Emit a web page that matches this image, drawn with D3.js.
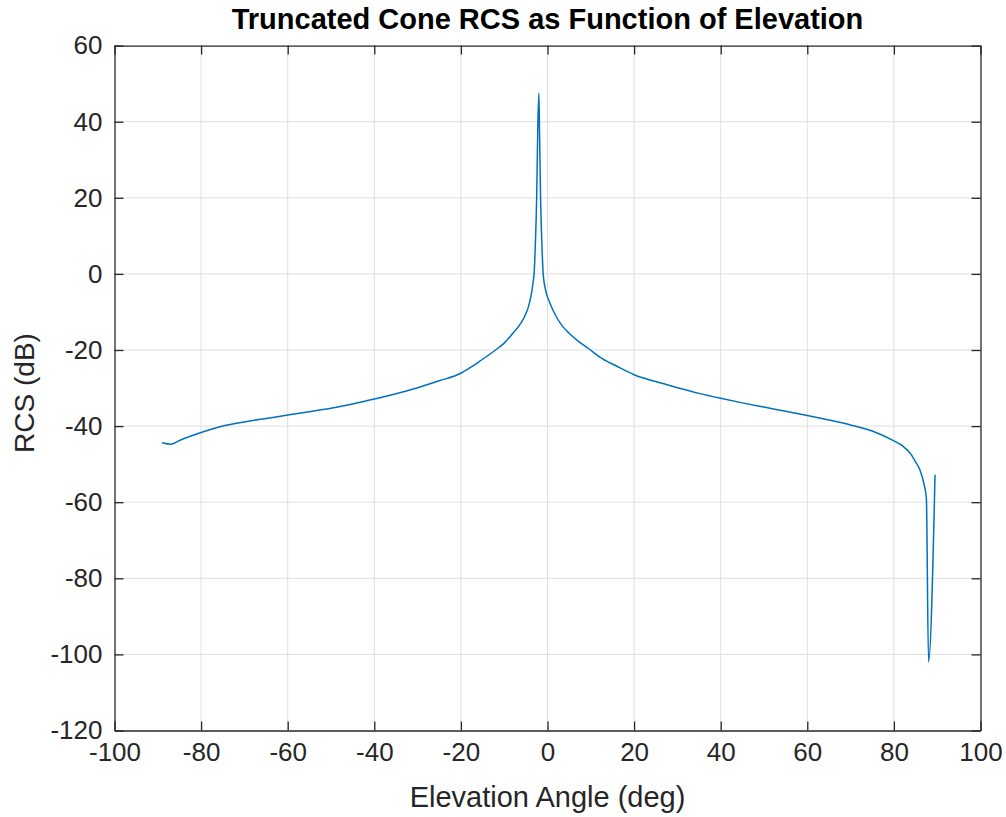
<!DOCTYPE html>
<html><head><meta charset="utf-8">
<script src="https://cdn.jsdelivr.net/npm/d3@7/dist/d3.min.js"></script>
<style>
html,body{margin:0;padding:0;background:#fff;}
svg{display:block;}
text{font-family:"Liberation Sans",Arial,Helvetica,sans-serif;}
</style></head>
<body>
<svg id="chart" width="1006" height="817"></svg>
<script>
const elevation = [-89, -87, -85, -80, -75, -70, -65, -60, -55, -50, -45, -40, -35, -30, -25, -20, -17.5, -15.7, -12, -10, -8, -6, -5.3, -4.5, -3.7, -3.3, -3.1, -2.8, -2.5, -2.25, -2.0, -1.85, -1.6, -1.2, -1.0, -0.25, 0.5, 2, 3.5, 5, 7, 9.7, 12, 15.9, 20, 25, 30, 35, 40, 45, 50, 55, 60, 65, 70, 75, 80, 82, 84, 85, 86, 87, 87.5, 88, 89.5];
const rcsDb = [-44.4, -44.8, -43.8, -41.7, -40.0, -38.9, -38.0, -37.1, -36.2, -35.3, -34.2, -32.9, -31.5, -29.9, -28.1, -26.1, -24.4, -23.0, -20.0, -18.2, -15.6, -12.7, -11.2, -9.0, -5.1, -2, 0, 8, 20, 38, 47.5, 38, 20, 5, 0, -5.1, -7.5, -11.2, -13.8, -15.6, -17.6, -19.8, -21.8, -24.2, -26.5, -28.3, -29.9, -31.4, -32.7, -33.9, -35.0, -36.1, -37.2, -38.4, -39.7, -41.3, -43.9, -45.2, -47.5, -49.4, -51.5, -55.5, -59, -102, -52.8];
const xTicks = [-100, -80, -60, -40, -20, 0, 20, 40, 60, 80, 100];
const yTicks = [-120, -100, -80, -60, -40, -20, 0, 20, 40, 60];
const titleText = "Truncated Cone RCS as Function of Elevation";
const xLabelText = "Elevation Angle (deg)";
const yLabelText = "RCS (dB)";

const L = 114.5, R = 980.5, T = 45.6, B = 730.5;
const svg = d3.select("#chart");
const x = d3.scaleLinear().domain([-100, 100]).range([L, R]);
const y = d3.scaleLinear().domain([-120, 60]).range([B, T]);
const axisColor = "#262626";

// grid
const grid = svg.append("g");
grid.selectAll("line.vx").data(xTicks.slice(1, -1)).join("line")
  .attr("x1", d => x(d)).attr("x2", d => x(d)).attr("y1", T).attr("y2", B)
  .attr("stroke", "#dfdfdf").attr("stroke-width", 1);
grid.selectAll("line.hy").data(yTicks.slice(1, -1)).join("line")
  .attr("y1", d => y(d)).attr("y2", d => y(d)).attr("x1", L).attr("x2", R)
  .attr("stroke", "#dfdfdf").attr("stroke-width", 1);

// data line
const line = d3.line().x((d, i) => x(elevation[i])).y(d => y(d)).curve(d3.curveMonotoneX);
svg.append("path").datum(rcsDb).attr("d", line)
  .attr("fill", "none").attr("stroke", "#0072BD").attr("stroke-width", 1.5)
  .attr("stroke-linejoin", "round");

// axes
const tickLen = 9;
const fontSize = 26;
const gB = svg.append("g").attr("transform", `translate(0,${B})`)
  .call(d3.axisBottom(x).tickValues(xTicks).tickSizeInner(-tickLen).tickSizeOuter(0).tickPadding(12));
const gT = svg.append("g").attr("transform", `translate(0,${T})`)
  .call(d3.axisTop(x).tickValues(xTicks).tickSizeInner(-tickLen).tickSizeOuter(0).tickFormat(""));
const gL = svg.append("g").attr("transform", `translate(${L},0)`)
  .call(d3.axisLeft(y).tickValues(yTicks).tickSizeInner(-tickLen).tickSizeOuter(0).tickPadding(12));
const gR = svg.append("g").attr("transform", `translate(${R},0)`)
  .call(d3.axisRight(y).tickValues(yTicks).tickSizeInner(-tickLen).tickSizeOuter(0).tickFormat(""));
[gB, gT, gL, gR].forEach(g => {
  g.select(".domain").attr("stroke", axisColor).attr("stroke-width", 1.3);
  g.selectAll(".tick line").attr("stroke", axisColor).attr("stroke-width", 1.3);
  g.selectAll(".tick text").attr("fill", axisColor).style("font-size", fontSize + "px")
    .style("font-family", '"Liberation Sans", Arial, sans-serif');
});
gB.selectAll(".tick text").text(d => String(d));
gL.selectAll(".tick text").text(d => String(d));

// titles
svg.append("text").attr("x", (L + R) / 2).attr("y", 29).attr("text-anchor", "middle")
  .style("font-size", "29px").style("font-weight", "bold").attr("fill", "#000")
  .text(titleText);
svg.append("text").attr("x", (L + R) / 2).attr("y", 807).attr("text-anchor", "middle")
  .style("font-size", "29px").attr("fill", axisColor)
  .text(xLabelText);
svg.append("text").attr("transform", `translate(34,393) rotate(-90)`).attr("text-anchor", "middle")
  .style("font-size", "28px").attr("fill", axisColor)
  .text(yLabelText);
</script>
</body></html>
